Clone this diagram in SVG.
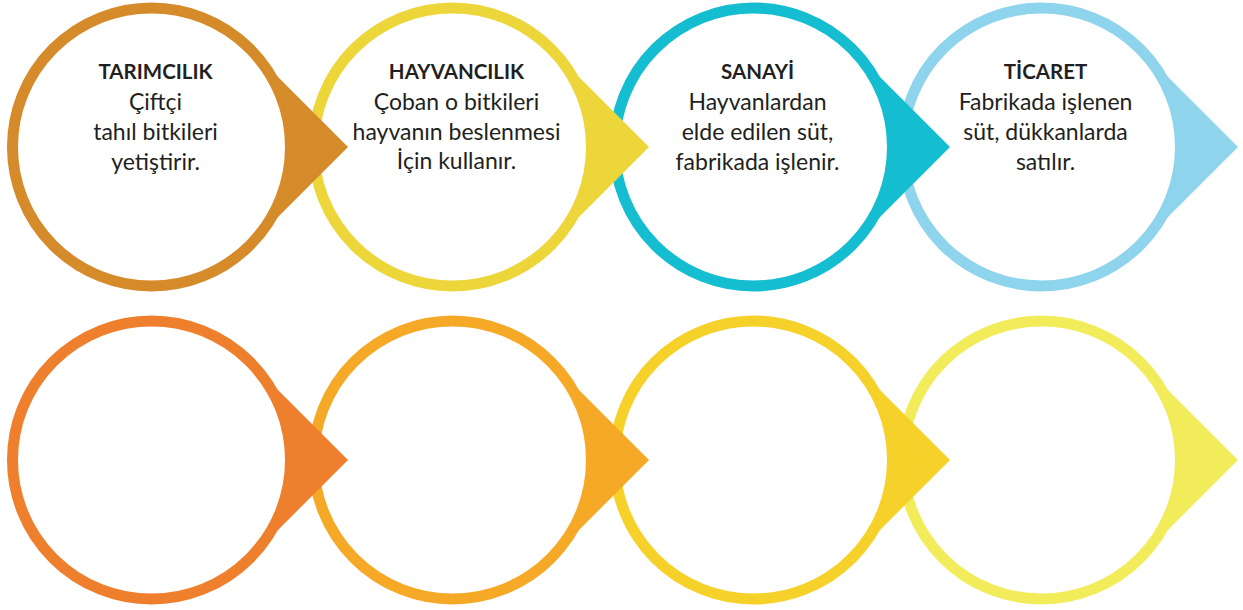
<svg xmlns="http://www.w3.org/2000/svg" width="1243" height="610" viewBox="0 0 1243 610">
<style>
.ring{fill:#ffffff;stroke-width:11}
.t{font-family:Lato,"Open Sans","Liberation Sans",sans-serif;font-size:23px;fill:#231f20;text-anchor:middle}
.b{font-weight:bold;font-size:20.5px}
</style>
<defs>
<polygon id="arrow" points="196.5,0 98.5,-98 0,0 98.5,98"/>
</defs>
<rect width="1243" height="610" fill="#ffffff"/>
<g id="connectors"></g>
<g id="n4" transform="translate(1041.5,147)">
<use href="#arrow" fill="#8dd4ec"/>
<circle r="139" class="ring" stroke="#8dd4ec"/>
<text class="t b" x="4" y="-68">TİCARET</text>
<text class="t" x="4" y="-37">Fabrikada işlenen</text>
<text class="t" x="4" y="-7">süt, dükkanlarda</text>
<text class="t" x="4" y="23">satılır.</text>
</g>
<g id="n3" transform="translate(753.5,147)">
<use href="#arrow" fill="#14bdd0"/>
<circle r="139" class="ring" stroke="#14bdd0"/>
<text class="t b" x="4" y="-68">SANAYİ</text>
<text class="t" x="4" y="-37">Hayvanlardan</text>
<text class="t" x="4" y="-7">elde edilen süt,</text>
<text class="t" x="4" y="23">fabrikada işlenir.</text>
</g>
<g id="n2" transform="translate(452.5,147)">
<use href="#arrow" fill="#edd63a"/>
<circle r="139" class="ring" stroke="#edd63a"/>
<text class="t b" x="4" y="-68">HAYVANCILIK</text>
<text class="t" x="4" y="-37">Çoban o bitkileri</text>
<text class="t" x="4" y="-7">hayvanın beslenmesi</text>
<text class="t" x="4" y="22">İçin kullanır.</text>
</g>
<g id="n1" transform="translate(151.5,147)">
<use href="#arrow" fill="#d68b2a"/>
<circle r="139" class="ring" stroke="#d68b2a"/>
<text class="t b" x="4" y="-68">TARIMCILIK</text>
<text class="t" x="4" y="-37">Çiftçi</text>
<text class="t" x="4" y="-7">tahıl bitkileri</text>
<text class="t" x="4" y="23">yetiştirir.</text>
</g>
<g id="n8" transform="translate(1041.5,460)">
<use href="#arrow" fill="#f2ec5a"/>
<circle r="139" class="ring" stroke="#f2ec5a"/>
</g>
<g id="n7" transform="translate(753.5,460)">
<use href="#arrow" fill="#f5d12a"/>
<circle r="139" class="ring" stroke="#f5d12a"/>
</g>
<g id="n6" transform="translate(452.5,460)">
<use href="#arrow" fill="#f6a926"/>
<circle r="139" class="ring" stroke="#f6a926"/>
</g>
<g id="n5" transform="translate(151.5,460)">
<use href="#arrow" fill="#ee7f2d"/>
<circle r="139" class="ring" stroke="#ee7f2d"/>
</g>
</svg>
